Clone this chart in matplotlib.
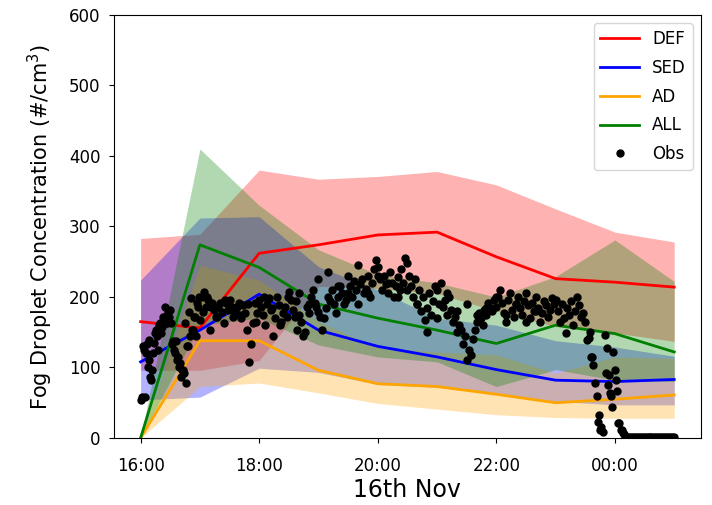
import numpy as np
import pandas as pd
import matplotlib
matplotlib.use("Agg")
import matplotlib.pyplot as plt
import matplotlib.dates as mdates

# model output, hourly 16:00 -> 01:00
times = pd.date_range("2019-11-16 16:00", "2019-11-17 01:00", freq="h")

def_mid = [165, 156, 262, 274, 288, 292, 257, 226, 221, 214]
def_lo = [96, 96, 110, 215, 212, 205, 180, 158, 149, 137]
def_hi = [283, 289, 380, 367, 371, 378, 359, 325, 292, 278]

sed_mid = [108, 153, 204, 153, 130, 115, 97, 82, 80, 83]
sed_lo = [54, 58, 99, 93, 76, 72, 62, 52, 47, 47]
sed_hi = [224, 312, 314, 243, 210, 170, 160, 138, 129, 116]

ad_mid = [0, 138, 138, 96, 77, 73, 62, 50, 55, 61]
ad_lo = [0, 73, 78, 64, 49, 41, 33, 29, 28, 28]
ad_hi = [0, 245, 224, 165, 128, 122, 118, 92, 115, 113]

all_mid = [0, 274, 242, 190, 170, 153, 134, 160, 148, 122]
all_lo = [0, 160, 170, 132, 115, 108, 73, 97, 82, 80]
all_hi = [0, 410, 330, 267, 232, 220, 200, 229, 281, 222]

# observations every 2 min from 16:00
obs = [54, 130, 58, 134, 110, 87, 96, 135, 153, 125, 163, 158, 172, 163, 179,
       182, 134, 125, 137, 115, 106, 96, 92, 78, 130, 144, 153, 172, 144, 186,
       167, 200, 207, 186, 196, 153, 191, 182, 172, 186, 191, 179, 163, 191, 182,
       196, 186, 172, 180, 186, 191, 170, 189, 178, 153, 108, 134, 163, 191, 178,
       196, 186, 175, 160, 190, 198, 182, 144, 170, 200, 188, 165, 178, 186, 172,
       207, 196, 182, 172, 153, 175, 165, 144, 150, 186, 178, 200, 210, 191, 186,
       179, 172, 153, 170, 185, 200, 195, 210, 190, 178, 200, 215, 205, 190, 196,
       205, 215, 200, 222, 210, 190, 218, 225, 205, 212, 230, 200, 220, 240, 252,
       243, 225, 210, 230, 218, 205, 235, 220, 200, 215, 228, 210, 240, 220, 255,
       248, 230, 215, 200, 225, 190, 210, 180, 200, 168, 185, 205, 175, 195, 215,
       210, 190, 220, 186, 196, 175, 200, 182, 165, 172, 150, 160, 153, 134, 145,
       110, 125, 118, 140, 153, 165, 177, 170, 160, 182, 175, 191, 185, 180, 196,
       186, 200, 210, 191, 178, 165, 196, 205, 182, 172, 190, 200, 185, 175, 195,
       205, 188, 170, 192, 180, 200, 185, 165, 178, 195, 188, 172, 182, 198, 190,
       196, 180, 165, 190, 170, 149, 185, 175, 195, 160, 180, 200, 188, 172, 178,
       165, 139, 142, 115, 103, 78, 60, 33, 16, 9, 146, 128, 89, 59, 122,
       96, 66, 21, 11, 7, 3, 2, 2, 1, 1, 1, 1, 1, 1, 1,
       1, 1, 1, 1, 1, 1, 1, 1, 1, 1, 1, 1, 1, 1, 1,
       1]

# extra obs points (minutes after 16:00, value)
extra_min = [1, 3, 5, 7, 9, 11, 13, 15, 17, 19, 21, 23, 25, 27, 29, 31, 33, 35, 37, 39,
             41, 43, 45, 47, 49, 51, 53, 55, 57, 59, 63, 67, 71, 77, 85, 93, 101, 109,
             117, 125, 133, 141, 149, 157, 160, 170, 180, 190, 200, 210, 220, 230, 240,
             250, 260, 270, 280, 290, 300, 310, 320, 330, 340, 350, 360, 370, 380, 390,
             400, 455, 457, 463, 465, 471, 473, 475, 477, 481, 483, 487, 489]
extra_val = [58, 125, 120, 101, 139, 82, 120, 149, 144, 160, 149, 172, 186, 163, 172, 163,
             137, 120, 110, 101, 87, 96, 163, 130, 179, 198, 153, 172, 191, 200, 179, 200,
             186, 172, 196, 182, 175, 190, 165, 200, 185, 160, 200, 195, 205, 190, 225, 235,
             215, 230, 245, 205, 230, 220, 200, 210, 190, 150, 170, 205, 180, 190, 175, 185,
             200, 175, 190, 165, 180, 150, 115, 23, 11, 92, 75, 64, 44, 82, 21, 11, 5]

t0 = pd.Timestamp("2019-11-16 16:00")
obs_t = t0 + pd.to_timedelta(np.arange(len(obs)) * 2, unit="min")
ext_t = t0 + pd.to_timedelta(extra_min, unit="min")
all_obs_t = np.concatenate([obs_t.values, ext_t.values])
all_obs_v = np.concatenate([obs, extra_val])

fig = plt.figure(figsize=(7.12, 5.05), dpi=100)
ax = fig.add_axes([0.160, 0.1327, 0.8244, 0.8376])

runs = [("DEF", def_mid, def_lo, def_hi, "red"),
        ("SED", sed_mid, sed_lo, sed_hi, "blue"),
        ("AD", ad_mid, ad_lo, ad_hi, "orange"),
        ("ALL", all_mid, all_lo, all_hi, "green")]
for name, mid, lo, hi, c in runs:
    ax.plot(times, mid, color=c, lw=2, label=name)
    ax.fill_between(times, lo, hi, color=c, alpha=0.3, lw=0)

ax.plot(all_obs_t, all_obs_v, "k.", ms=10, label="Obs")

ax.set_ylim(0, 600)
ax.xaxis.set_major_locator(mdates.HourLocator(byhour=range(0, 24, 2)))
ax.xaxis.set_major_formatter(mdates.DateFormatter("%H:%M"))
ax.tick_params(labelsize=12)
ax.tick_params(axis="x", pad=10)
ax.tick_params(axis="y", pad=6)
ax.set_xlabel("16th Nov", fontsize=17, labelpad=2)
ax.set_ylabel("Fog Droplet Concentration (#/cm$^3$)", fontsize=15, labelpad=10)
ax.legend(loc="upper right", fontsize=12, labelspacing=0.65, handlelength=2.3)

fig.savefig("out.png", dpi=100)
